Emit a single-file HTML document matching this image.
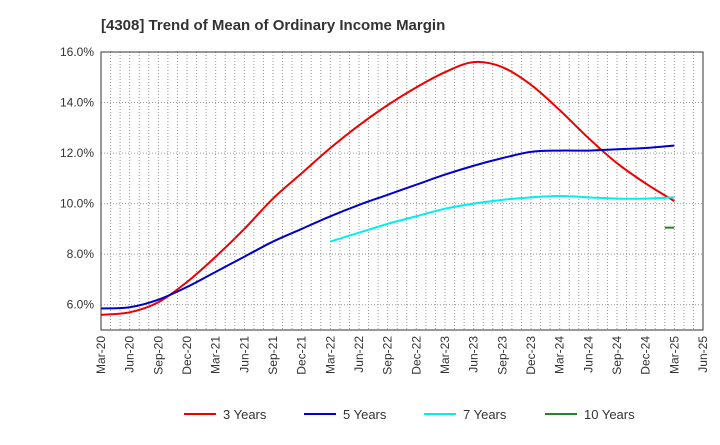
<!DOCTYPE html>
<html><head><meta charset="utf-8"><style>
body{margin:0;background:#fff;font-family:"Liberation Sans",sans-serif}
</style></head><body>
<svg id="c" width="720" height="440" xmlns="http://www.w3.org/2000/svg" font-family="Liberation Sans, sans-serif">
<text x="101" y="30" font-size="15" font-weight="bold" fill="#333">[4308]  Trend of Mean of Ordinary Income Margin</text>
<g id="grid"></g><g id="series"></g><g id="axes"></g><g id="legend"></g>
</svg>
<script>
const xLabels=["Mar-20","Jun-20","Sep-20","Dec-20","Mar-21","Jun-21","Sep-21","Dec-21","Mar-22","Jun-22","Sep-22","Dec-22","Mar-23","Jun-23","Sep-23","Dec-23","Mar-24","Jun-24","Sep-24","Dec-24","Mar-25","Jun-25"];
const yTicks=[6,8,10,12,14,16];
const s3=[5.6,5.7,6.1,6.9,7.9,9.0,10.2,11.2,12.2,13.1,13.9,14.6,15.2,15.6,15.4,14.7,13.7,12.6,11.6,10.8,10.1];
const s5=[5.85,5.9,6.2,6.7,7.3,7.9,8.5,9.0,9.5,9.95,10.35,10.75,11.15,11.5,11.8,12.05,12.1,12.1,12.15,12.2,12.3];
const s7=[8.5,8.85,9.2,9.5,9.8,10.0,10.15,10.25,10.3,10.25,10.2,10.2,10.25];
const s10=[9.05];
const NS="http://www.w3.org/2000/svg";
const L=101,R=703,T=52,B=330;
const xm=m=>L+(R-L)*m/63;
const y=v=>B-(v-5)/(16-5)*(B-T);
function mk(tag,attrs,parent){const e=document.createElementNS(NS,tag);for(const k in attrs)e.setAttribute(k,attrs[k]);document.getElementById(parent).appendChild(e);return e;}
for(let m=1;m<63;m++){const e=mk('line',{x1:xm(m),x2:xm(m),y1:T,y2:B,stroke:'#999','stroke-dasharray':'1,2'},'grid');

}
yTicks.forEach(v=>{const e=mk('line',{x1:L,x2:R,y1:y(v),y2:y(v),stroke:'#999','stroke-dasharray':'1,2'},'grid');


const t=mk('text',{x:L-7,y:y(v)+4,'text-anchor':'end','font-size':12,fill:'#333'},'axes');t.textContent=v.toFixed(1)+'%';

});
const fr=mk('rect',{x:L,y:T,width:R-L,height:B-T,fill:'none',stroke:'#333'},'axes');


xLabels.forEach((lb,i)=>{const x=xm(i*3);const t=mk('text',{transform:`translate(${x+4},${B+6}) rotate(-90)`,'text-anchor':'end','font-size':12,fill:'#333'},'axes');t.textContent=lb;

});
function path(vals,startQ,color,name){const p=vals.map((v,i)=>[xm((startQ+i)*3),y(v)]);let d='M'+p[0][0]+','+p[0][1];
for(let i=0;i<p.length-1;i++){const p0=p[i-1]||p[i],p1=p[i],p2=p[i+1],p3=p[i+2]||p2;
d+=` C${p1[0]+(p2[0]-p0[0])/6},${p1[1]+(p2[1]-p0[1])/6} ${p2[0]-(p3[0]-p1[0])/6},${p2[1]-(p3[1]-p1[1])/6} ${p2[0]},${p2[1]}`;}
const e=mk('path',{d:d,fill:'none',stroke:color,'stroke-width':2},'series');

}
path(s3,0,'#e00','line-3-years');
path(s5,0,'#00c','line-5-years');
path(s7,8,'#0ee','line-7-years');
const g=mk('line',{x1:xm(59),x2:xm(60),y1:y(s10[0]),y2:y(s10[0]),stroke:'#282','stroke-width':2},'series');


const leg=[["3 Years","#e00",184],["5 Years","#00c",304],["7 Years","#0ee",424],["10 Years","#282",545]];
leg.forEach(([n,c,x])=>{const l=mk('line',{x1:x,x2:x+32,y1:414,y2:414,stroke:c,'stroke-width':2},'legend');


const t=mk('text',{x:x+39,y:419,'font-size':13,fill:'#333'},'legend');t.textContent=n;

});
</script>
</body></html>
